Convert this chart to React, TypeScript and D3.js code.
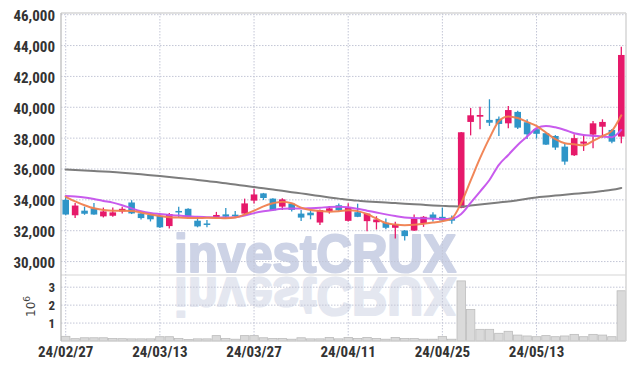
import React from 'react';
import * as d3 from 'd3';

const dates = [
  '24/02/27','24/02/28','24/02/29','24/03/04','24/03/05','24/03/06','24/03/07','24/03/08','24/03/11','24/03/12',
  '24/03/13','24/03/14','24/03/15','24/03/18','24/03/19','24/03/20','24/03/21','24/03/22','24/03/25','24/03/26',
  '24/03/27','24/03/28','24/03/29','24/04/01','24/04/02','24/04/03','24/04/04','24/04/05','24/04/08','24/04/09',
  '24/04/11','24/04/12','24/04/15','24/04/16','24/04/17','24/04/18','24/04/19','24/04/22','24/04/23','24/04/24',
  '24/04/25','24/04/26','24/04/29','24/04/30','24/05/02','24/05/03','24/05/07','24/05/08','24/05/09','24/05/10',
  '24/05/13','24/05/14','24/05/16','24/05/17','24/05/20','24/05/21','24/05/22','24/05/23','24/05/24','24/05/27'
];

const opens = [
  34000,33000,33300,33450,32930,32970,33250,33830,33120,33030,
  32960,32300,33280,33420,32650,32470,32860,33060,33040,33110,
  33950,34420,34080,33560,33750,33110,33170,32530,33240,33650,
  32640,33200,32620,32550,32510,32190,32010,32010,32490,33050,
  32900,32840,33480,39050,39390,39180,39250,38960,39700,39030,
  38580,38320,38140,37450,36890,37640,38230,38740,38530,38100
];
const highs = [
  34200,33800,33560,33800,33500,33500,33550,33980,33150,33050,
  33000,33150,33550,33450,32920,32700,33220,33470,33280,34080,
  34720,34450,34100,34100,33800,33340,33320,33380,33600,33760,
  33780,33750,33140,32940,32790,32580,32050,33050,32950,33200,
  33500,32980,38400,39950,40040,40520,39400,40080,39780,39220,
  38600,38350,38200,37620,38250,38200,39110,39220,38600,43920
];
const lows = [
  33000,32820,33030,33030,32860,32900,33120,33080,32730,32600,
  32180,32150,32850,32850,32220,32230,32830,32790,32820,33080,
  33770,33990,33300,33340,33240,32630,32740,32370,33110,33280,
  32600,32880,31970,32080,32100,31500,31370,31980,32250,32600,
  32620,32450,33450,38180,38580,38790,38140,38640,38600,37950,
  37970,37560,37240,36270,36850,37170,37350,38030,37670,37670
];
const closes = [
  33050,33630,33100,33050,33250,33190,33420,33120,32820,32740,
  32220,33080,33200,32880,32280,32430,33020,32910,33000,33770,
  34350,34120,33320,34030,33350,32850,33000,33340,33450,33320,
  33500,32900,33110,32730,32190,32400,31650,32790,32900,32800,
  32660,32650,38380,39480,39500,39000,38920,39820,38680,38250,
  38280,37580,37390,36480,38000,37780,38960,39050,37770,43390
];
const volumes = [
  0.26,0.13,0.18,0.18,0.18,0.14,0.13,0.12,0.12,0.12,
  0.24,0.24,0.14,0.08,0.12,0.12,0.30,0.14,0.10,0.30,
  0.30,0.18,0.14,0.14,0.10,0.18,0.12,0.12,0.20,0.12,
  0.20,0.14,0.20,0.14,0.10,0.20,0.14,0.14,0.10,0.10,
  0.25,0.10,3.35,1.76,0.65,0.65,0.43,0.54,0.33,0.28,
  0.24,0.30,0.24,0.28,0.37,0.24,0.37,0.33,0.24,2.80
].map(v => v * 1e6);

const ma5 = [
  34200,33900,33650,33450,33350,33300,33300,33280,33180,33050,
  32950,32880,32850,32830,32820,32840,32830,32800,32850,33050,
  33300,33580,33780,33880,33780,33500,33340,33280,33230,33260,
  33330,33270,33080,32780,32500,32400,32360,32380,32450,32530,
  32620,32800,33800,35250,36700,38000,39100,39400,39300,39050,
  38790,38360,37930,37670,37600,37540,37820,38140,38470,39480
];
const ma10 = [
  34250,34210,34150,34050,33930,33820,33650,33450,33270,33150,
  33080,33020,32980,32940,32900,32880,32860,32850,32880,32990,
  33140,33260,33350,33420,33440,33440,33460,33490,33540,33550,
  33520,33420,33300,33180,33060,32950,32860,32820,32800,32780,
  32760,32780,33080,33800,34540,35290,36270,36910,37560,38100,
  38640,38790,38700,38530,38320,38210,38160,38100,38060,38530
];
const ma60 = [
  35960,35930,35900,35870,35840,35800,35760,35710,35660,35600,
  35540,35480,35420,35360,35290,35220,35150,35070,34990,34910,
  34830,34750,34670,34590,34500,34420,34330,34250,34160,34080,
  34000,33950,33900,33860,33830,33790,33750,33720,33680,33640,
  33610,33580,33570,33630,33700,33760,33830,33890,33980,34070,
  34160,34220,34280,34330,34390,34440,34500,34570,34650,34770
];

const priceTicks = [30000, 32000, 34000, 36000, 38000, 40000, 42000, 44000, 46000];
const volumeTicks = [1e6, 2e6, 3e6];
const tickDates = ['24/02/27', '24/03/13', '24/03/27', '24/04/11', '24/04/25', '24/05/13'];

const W = 634, H = 369;
const L = 61, R = 626, T = 13, MID = 275, B = 341;
const UP = '#e6196a', DOWN = '#2f95c8';
const FONT = "'Liberation Sans Narrow', 'Roboto Condensed', 'DejaVu Sans Condensed', sans-serif";

export default function App() {
  const x = d3.scaleBand<string>().domain(dates).range([L, R]).paddingInner(0).paddingOuter(0);
  const bw = x.bandwidth();
  const cx = (i: number) => (x(dates[i]) as number) + bw / 2;
  const y = d3.scaleLinear().domain([29130, 46110]).range([MID, T]);
  const yv = d3.scaleLinear().domain([0, 3.68e6]).range([B, MID]);

  const mkLine = (arr: number[]) =>
    d3.line<number>().x((_, i) => cx(i)).y(d => y(d)).curve(d3.curveMonotoneX)(arr) as string;

  const bodyW = bw * 0.7;

  return (
    <div style={{ position: 'fixed', left: 0, top: 0 }}>
      <svg width={W} height={H} style={{ display: 'block', background: '#fff' }}>
        <defs>
          <clipPath id="plotClip"><rect x={L} y={T} width={R - L} height={MID - T} /></clipPath>
          <clipPath id="volClip"><rect x={L} y={MID + 1} width={R - L} height={B - MID - 1} /></clipPath>
        </defs>

        {/* watermark */}
        <g clipPath="url(#plotClip)">
          <text x={174} y={272} fontFamily="'Liberation Sans', Arial, sans-serif" fontWeight="bold"
            fontSize={54} fill="#cdd3e6" stroke="#cdd3e6" strokeWidth={2.2} strokeLinejoin="round"
            textLength={282} lengthAdjust="spacingAndGlyphs">investCRUX</text>
        </g>
        <g clipPath="url(#volClip)">
          <g transform="translate(0,550) scale(1,-1)">
            <text x={174} y={272} fontFamily="'Liberation Sans', Arial, sans-serif" fontWeight="bold"
              fontSize={54} fill="#e4e7f0" stroke="#e4e7f0" strokeWidth={2.2} strokeLinejoin="round"
              textLength={282} lengthAdjust="spacingAndGlyphs">investCRUX</text>
          </g>
        </g>

        {/* grid */}
        <g stroke="#c3c6d6" strokeWidth={1} strokeDasharray="1.5,1.5">
          {priceTicks.map(t => (
            <line key={'p' + t} x1={L} x2={R} y1={y(t)} y2={y(t)} />
          ))}
          {volumeTicks.map(t => (
            <line key={'v' + t} x1={L} x2={R} y1={yv(t)} y2={yv(t)} />
          ))}
          {tickDates.map(d => (
            <line key={'x' + d} x1={(x(d) as number) + bw / 2} x2={(x(d) as number) + bw / 2} y1={T} y2={B} />
          ))}
        </g>

        {/* volume bars */}
        <g>
          {volumes.map((v, i) => (
            <rect key={'vb' + i} x={(x(dates[i]) as number) + 0.5} y={yv(v)} width={bw - 1}
              height={Math.max(0, yv(0) - yv(v))} fill="#dadada" stroke="#bcbcbc" strokeWidth={0.8} />
          ))}
        </g>

        {/* candles */}
        <g clipPath="url(#plotClip)">
          {dates.map((d, i) => {
            const up = closes[i] >= opens[i];
            const col = up ? UP : DOWN;
            const top = y(Math.max(opens[i], closes[i]));
            const bot = y(Math.min(opens[i], closes[i]));
            return (
              <g key={'c' + i}>
                <line x1={cx(i)} x2={cx(i)} y1={y(highs[i])} y2={y(lows[i])} stroke={col} strokeWidth={1.3} />
                <rect x={cx(i) - bodyW / 2} y={top} width={bodyW} height={Math.max(1.5, bot - top)} fill={col} />
              </g>
            );
          })}
        </g>

        {/* moving averages */}
        <g clipPath="url(#plotClip)" fill="none" strokeLinejoin="round" strokeLinecap="round">
          <path d={mkLine(ma60)} stroke="#7d7d7d" strokeWidth={2} />
          <path d={mkLine(ma10)} stroke="#c552ec" strokeWidth={2} strokeOpacity={0.95} />
          <path d={mkLine(ma5)} stroke="#f07f4f" strokeWidth={2} strokeOpacity={0.95} />
        </g>

        {/* frame */}
        <line x1={L} x2={R} y1={T} y2={T} stroke="#d6d6d6" strokeWidth={1.5} />
        <line x1={R} x2={R} y1={T} y2={B} stroke="#d6d6d6" strokeWidth={1.5} />
        <line x1={L} x2={R} y1={MID} y2={MID} stroke="#d6d6d6" strokeWidth={1.2} />
        <line x1={L} x2={R} y1={B} y2={B} stroke="#d0d0d0" strokeWidth={1} />
        <line x1={L} x2={L} y1={T} y2={B} stroke="#bdbdbd" strokeWidth={1.3} />

        {/* price axis labels */}
        <g fontFamily={FONT} fontSize={15} fontWeight="bold" fill="#333" textAnchor="end">
          {priceTicks.map(t => (
            <text key={'pl' + t} x={55} y={y(t) + 6.5}>{d3.format(',')(t)}</text>
          ))}
        </g>
        {/* volume axis labels */}
        <g fontFamily={FONT} fontSize={13} fontWeight="bold" fill="#333" textAnchor="end">
          {volumeTicks.map(t => (
            <text key={'vl' + t} x={55} y={yv(t) + 5}>{t / 1e6}</text>
          ))}
        </g>
        <text transform="translate(35,317) rotate(-90)" fontFamily="'DejaVu Sans', sans-serif" fontSize={12} fill="#444">
          10<tspan dy={-5} fontSize={9}>6</tspan>
        </text>

        {/* x axis labels */}
        <g fontFamily={FONT} fontSize={15} fontWeight="bold" fill="#333" textAnchor="middle">
          {tickDates.map(d => (
            <text key={'xl' + d} x={(x(d) as number) + bw / 2} y={357}>{d}</text>
          ))}
        </g>
      </svg>
    </div>
  );
}
